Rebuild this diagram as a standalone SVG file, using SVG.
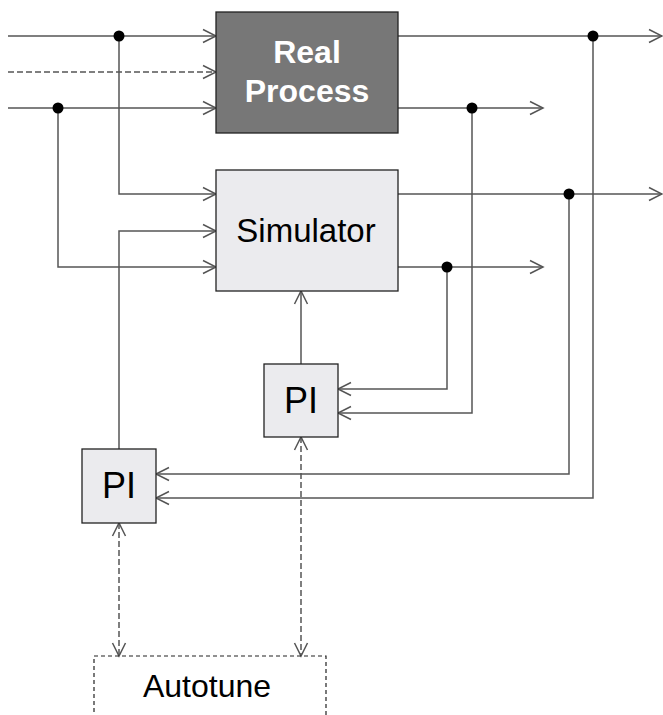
<svg xmlns="http://www.w3.org/2000/svg" width="663" height="715" viewBox="0 0 663 715">
<style>
.c{fill:none;stroke:#555;stroke-width:1.5}
.d{stroke-dasharray:6 3}
.dot{fill:#000}
.box{fill:#ebebee;stroke:#222;stroke-width:1.3}
.t{font-family:"Liberation Sans",Arial,sans-serif;fill:#000;text-anchor:middle}
</style>
<defs>
<marker id="a" markerUnits="userSpaceOnUse" markerWidth="16" markerHeight="16" viewBox="0 0 16 16" refX="14" refY="8" orient="auto-start-reverse">
<path d="M1,1.5 L14,8 L1,14.5" fill="none" stroke="#555" stroke-width="1.5"/>
</marker>
</defs>
<rect width="663" height="715" fill="#fff"/>
<g id="connectors">
<path class="c" d="M8,36 H216" marker-end="url(#a)"/>
<path class="c" d="M119,36 V194 H216" marker-end="url(#a)"/>
<path class="c d" d="M8,72 H216" marker-end="url(#a)"/>
<path class="c" d="M8,108 H216" marker-end="url(#a)"/>
<path class="c" d="M58,108 V267 H216" marker-end="url(#a)"/>
<path class="c" d="M398,36 H662" marker-end="url(#a)"/>
<path class="c" d="M593,36 V498 H156" marker-end="url(#a)"/>
<path class="c" d="M398,108 H543" marker-end="url(#a)"/>
<path class="c" d="M472,108 V413 H338" marker-end="url(#a)"/>
<path class="c" d="M398,194 H662" marker-end="url(#a)"/>
<path class="c" d="M569,194 V474 H156" marker-end="url(#a)"/>
<path class="c" d="M398,267 H543" marker-end="url(#a)"/>
<path class="c" d="M447,267 V389 H338" marker-end="url(#a)"/>
<path class="c" d="M301,364 V291" marker-end="url(#a)"/>
<path class="c" d="M119,449 V231 H216" marker-end="url(#a)"/>
<path class="c d" d="M119,523 V656" marker-start="url(#a)" marker-end="url(#a)"/>
<path class="c d" d="M301,437 V656" marker-start="url(#a)" marker-end="url(#a)"/>
<circle class="dot" cx="119" cy="36" r="5.5"/>
<circle class="dot" cx="58" cy="108" r="5.5"/>
<circle class="dot" cx="593" cy="36" r="5.5"/>
<circle class="dot" cx="472" cy="108" r="5.5"/>
<circle class="dot" cx="569" cy="194" r="5.5"/>
<circle class="dot" cx="447" cy="267" r="5.5"/>
</g>
<g id="real-process">
<rect x="216" y="12" width="182" height="121" fill="#777" stroke="#222" stroke-width="1.3"/>
<text class="t" x="307" y="63" font-size="32" font-weight="bold" style="fill:#fff">Real</text>
<text class="t" x="307" y="102" font-size="32" font-weight="bold" style="fill:#fff">Process</text>
</g>
<g id="simulator">
<rect class="box" x="216" y="170" width="182" height="121"/>
<text class="t" x="306" y="242" font-size="33">Simulator</text>
</g>
<g id="pi-inner">
<rect class="box" x="264" y="364" width="74" height="73"/>
<text class="t" x="301" y="413" font-size="36">PI</text>
</g>
<g id="pi-outer">
<rect class="box" x="82" y="449" width="74" height="74"/>
<text class="t" x="119" y="498" font-size="36">PI</text>
</g>
<g id="autotune">
<rect x="94" y="656" width="232" height="90" fill="none" stroke="#222" stroke-width="1.2" stroke-dasharray="4 3"/>
<text class="t" x="207" y="697" font-size="32">Autotune</text>
</g>
</svg>
